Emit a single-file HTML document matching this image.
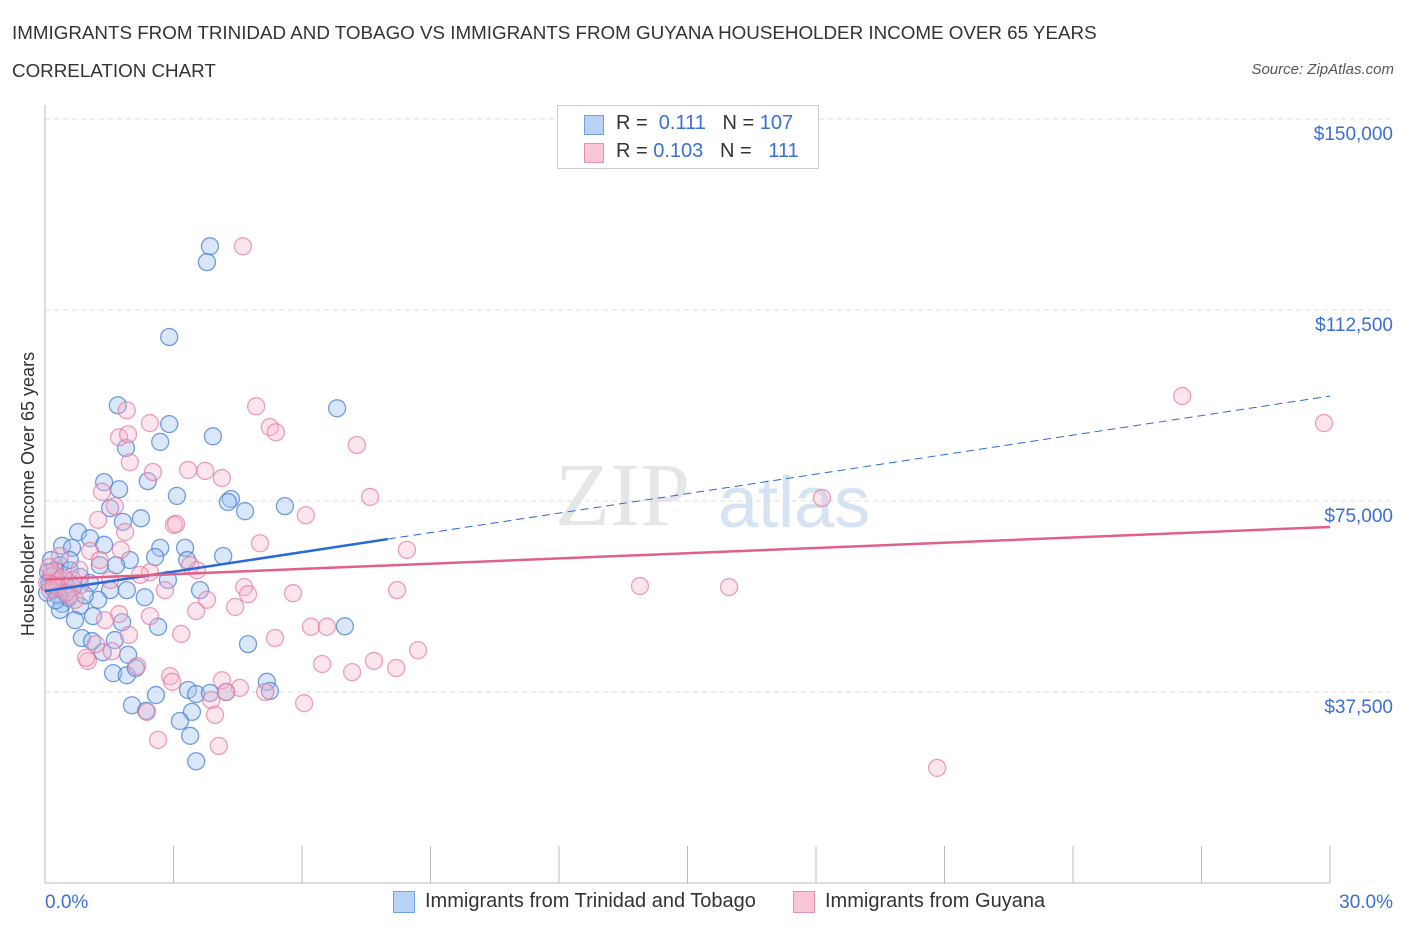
<!DOCTYPE html>
<html><head><meta charset="utf-8">
<style>
body{margin:0;background:#fff;font-family:"Liberation Sans",sans-serif;}
#wrap{position:relative;width:1406px;height:930px;overflow:hidden;}
.t{position:absolute;white-space:nowrap;}
</style></head>
<body>
<div id="wrap">
<div class="t" style="left:12px;top:22px;font-size:18.8px;color:#333;">IMMIGRANTS FROM TRINIDAD AND TOBAGO VS IMMIGRANTS FROM GUYANA HOUSEHOLDER INCOME OVER 65 YEARS</div>
<div class="t" style="left:12px;top:60px;font-size:18.8px;color:#333;">CORRELATION CHART</div>
<div class="t" style="right:12px;top:61px;font-size:15px;color:#555;font-style:italic;">Source: ZipAtlas.com</div>
<svg id="svg" width="1406" height="930" style="position:absolute;left:0;top:0"></svg>
</div>
<script>
const xTickLabels=["0.0%","30.0%"];
const yTicks=[37500,75000,112500,150000];
const yTickLabels=["$37,500","$75,000","$112,500","$150,000"];
const blueX=[3.85,3.78,2.90,1.70,6.82,2.90,3.92,2.69,1.89,1.38,1.73,2.40,3.08,4.34,4.27,4.67,5.60,1.52,1.82,2.24,0.77,1.05,0.40,0.63,1.38,2.69,3.27,4.16,2.57,1.98,1.28,1.66,3.32,0.14,0.35,0.58,0.82,0.23,0.47,1.05,2.87,3.62,1.52,1.91,2.33,1.24,0.40,0.82,0.35,1.12,1.80,2.64,0.86,1.10,1.63,1.35,1.94,7.00,4.74,1.59,1.91,2.12,2.03,2.36,2.59,3.34,3.53,3.85,4.23,5.18,5.25,3.43,3.15,3.39,3.53,0.12,0.23,0.07,0.58,0.93,0.70,0.05,0.10,0.20,0.30,0.45,0.15,0.55,0.25,0.65];
const blueY=[125.0,121.9,107.2,93.8,93.2,90.1,87.7,86.6,85.4,78.7,77.3,78.9,76.0,75.4,74.8,73.0,74.0,73.6,70.9,71.6,68.9,67.7,66.2,65.8,66.4,65.8,65.8,64.2,64.0,63.4,62.4,62.4,63.4,63.4,62.4,61.4,60.1,59.5,58.5,58.9,59.5,57.5,57.5,57.5,56.1,55.6,54.8,54.4,53.6,52.4,51.2,50.3,48.1,47.5,47.7,45.3,44.8,50.4,46.9,41.2,40.8,42.2,34.9,33.8,36.9,37.9,37.1,37.3,37.5,39.5,37.7,33.6,31.8,28.9,23.9,58.5,61.4,61.0,63.4,56.5,51.6,57.0,59.0,57.8,56.5,57.2,60.2,56.0,55.5,58.0];
const pinkX=[4.62,26.55,29.86,4.93,1.91,2.45,5.25,5.39,1.73,1.94,7.28,1.98,2.52,3.34,3.74,4.13,7.59,18.14,1.33,1.63,6.09,1.24,1.87,3.01,3.06,5.02,8.45,1.77,1.05,0.35,3.39,3.55,2.45,2.22,1.52,0.82,4.65,4.74,5.79,8.22,13.89,15.97,2.80,3.78,4.44,3.53,1.73,2.45,1.40,5.37,6.21,6.58,3.18,1.96,1.19,1.56,1.00,0.96,2.15,6.47,7.17,7.68,8.20,8.71,2.92,2.97,4.13,4.55,4.23,5.14,6.05,3.88,3.97,2.38,2.64,4.06,20.83,0.23,0.35,0.12,0.58,1.28,0.70,0.05,0.15,0.30,0.40,0.50,0.10,0.20,0.65,0.80];
const pinkY=[125.0,95.6,90.3,93.6,92.8,90.3,89.5,88.5,87.5,88.1,86.0,82.6,80.7,81.1,80.9,79.5,75.8,75.6,76.8,74.0,72.2,71.3,68.9,70.3,70.5,66.7,65.4,65.4,65.2,64.2,62.4,61.4,61.0,60.5,59.5,58.5,58.1,56.7,56.9,57.5,58.3,58.1,57.5,55.6,54.2,53.4,52.8,52.4,51.6,48.1,50.3,50.3,48.9,48.7,46.9,45.5,43.6,44.2,42.6,43.0,41.4,43.6,42.2,45.7,40.6,39.5,39.8,38.3,37.5,37.5,35.3,35.9,33.0,33.6,28.1,26.9,22.6,60.5,59.5,57.5,56.5,63.4,55.6,59.0,61.0,58.0,60.0,57.0,62.0,58.5,59.5,61.5];
const blueTrend=[57.3,95.6], blueSolidEnd=8.0;
const pinkTrend=[59.6,69.9];

const L=45,R=1330,T=119,B=883;
const xs=v=>L+(v/30)*(R-L);
const ys=v=>B-(v/150)*(B-T);
const svg=document.getElementById('svg');
const NS='http://www.w3.org/2000/svg';
function mk(tag,a){const e=document.createElementNS(NS,tag);for(const k in a)e.setAttribute(k,a[k]);svg.appendChild(e);return e;}
let w=mk('text',{x:555,y:525,'font-size':90,'font-family':'Liberation Serif,serif',fill:'#e6e6e6'});w.textContent='ZIP';


w=mk('text',{x:718,y:527,'font-size':72,'font-family':'Liberation Sans,sans-serif',fill:'#d5e3f3'});w.textContent='atlas';


yTicks.forEach((v,i)=>{
 const yy=ys(v/1000);
 const g=mk('line',{x1:L,x2:R+60,y1:yy,y2:yy,stroke:'#ddd','stroke-dasharray':'5,4'});
 
 
 const t=mk('text',{x:1393,y:yy+21,'text-anchor':'end','font-size':19,fill:'#3a6fd8'});t.textContent=yTickLabels[i];
 
 
});
let a=mk('line',{x1:L,x2:L,y1:105,y2:B,stroke:'#bbb'});


a=mk('line',{x1:L,x2:R,y1:B,y2:B,stroke:'#bbb'});


for(let i=0;i<=10;i++){const tk=mk('line',{x1:xs(i*3),x2:xs(i*3),y1:846,y2:B,stroke:'#bbb'});
 
 }
let xt=mk('text',{x:45,y:908,'font-size':19,fill:'#3a6fd8'});xt.textContent=xTickLabels[0];


xt=mk('text',{x:1393,y:908,'text-anchor':'end','font-size':19,fill:'#3a6fd8'});xt.textContent=xTickLabels[1];


let yt=mk('text',{x:34,y:494,'font-size':18,fill:'#333','text-anchor':'middle',transform:'rotate(-90 34 494)'});yt.textContent='Householder Income Over 65 years';


function pts(X,Y,fill,stroke,name){X.forEach((x,i)=>{const c=mk('circle',{cx:xs(x),cy:ys(Y[i]),r:8.5,fill:fill,stroke:stroke,'stroke-width':1.3});
 
 });}
pts(blueX,blueY,'rgba(160,195,240,0.4)','rgba(70,125,215,0.75)','point-trinidad');
pts(pinkX,pinkY,'rgba(245,180,200,0.35)','rgba(230,120,160,0.7)','point-guyana');
const by=x=>blueTrend[0]+(blueTrend[1]-blueTrend[0])*x/30;
let ln=mk('line',{x1:xs(0),y1:ys(by(0)),x2:xs(blueSolidEnd),y2:ys(by(blueSolidEnd)),stroke:'#2a6ad8','stroke-width':2.5});


ln=mk('line',{x1:xs(blueSolidEnd),y1:ys(by(blueSolidEnd)),x2:xs(30),y2:ys(by(30)),stroke:'#2a6ad8','stroke-width':1,'stroke-dasharray':'8,5'});


ln=mk('line',{x1:xs(0),y1:ys(pinkTrend[0]),x2:xs(30),y2:ys(pinkTrend[1]),stroke:'#e0608a','stroke-width':2.5});


</script>
<div class="t" style="left:557px;top:105px;width:260px;height:62px;border:1px solid #ccc;background:#fff;font-size:20px;">
 <div style="position:absolute;left:26px;top:9px;width:18px;height:18px;background:#b8d2f5;border:1px solid #6fa0e0;"></div>
 <div style="position:absolute;left:58px;top:6px;color:#333">R = <span style="color:#3a6fd8">&nbsp;0.111</span>&nbsp;&nbsp;&nbsp;N = <span style="color:#3a6fd8">107</span></div>
 <div style="position:absolute;left:26px;top:37px;width:18px;height:18px;background:#f8c6d6;border:1px solid #e890b0;"></div>
 <div style="position:absolute;left:58px;top:34px;color:#333">R = <span style="color:#3a6fd8">0.103</span>&nbsp;&nbsp;&nbsp;N = <span style="color:#3a6fd8">&nbsp;&nbsp;111</span></div>
</div>
<div class="t" style="left:393px;top:891px;width:20px;height:20px;background:#b8d2f5;border:1px solid #6fa0e0;"></div>
<div class="t" style="left:425px;top:890px;font-size:20px;color:#333;">Immigrants from Trinidad and Tobago</div>
<div class="t" style="left:793px;top:891px;width:20px;height:20px;background:#f8c6d6;border:1px solid #e890b0;"></div>
<div class="t" style="left:825px;top:890px;font-size:20px;color:#333;">Immigrants from Guyana</div>
</body></html>
